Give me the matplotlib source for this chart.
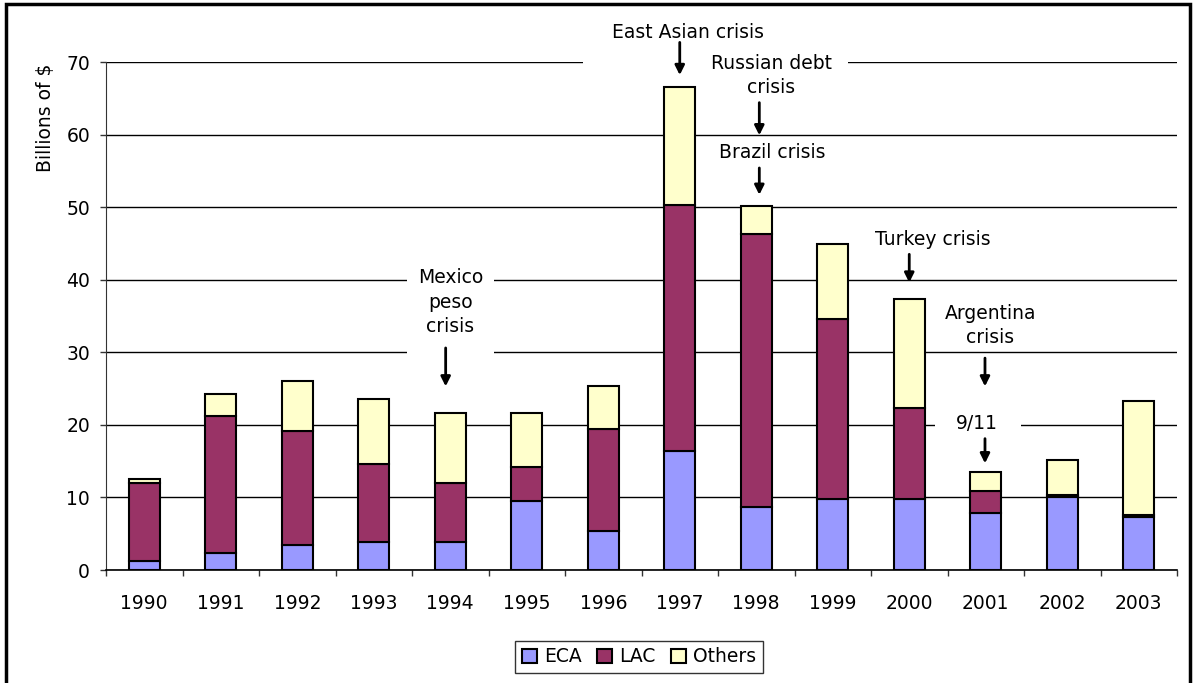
import matplotlib
matplotlib.use("Agg")
import matplotlib.pyplot as plt
import numpy as np
from matplotlib.patches import Rectangle

# ----------------------------------------------------------------------
# Data (billions of $)
# ----------------------------------------------------------------------
years = ["1990", "1991", "1992", "1993", "1994", "1995", "1996",
         "1997", "1998", "1999", "2000", "2001", "2002", "2003"]
eca = [1.3, 2.4, 3.5, 3.8, 3.8, 9.5, 5.4, 16.4, 8.7, 9.8, 9.8, 7.9, 10.1, 7.3]
lac = [10.7, 18.8, 15.7, 10.8, 8.2, 4.7, 14.0, 33.9, 37.6, 24.8, 12.5, 3.0, 0.3, 0.3]
others = [0.6, 3.0, 6.9, 9.0, 9.7, 7.5, 5.9, 16.3, 3.9, 10.3, 15.1, 2.6, 4.7, 15.7]

# crisis labels: (text, text x, text y, arrow x, arrow start y, arrow tip y)
crises = [
    ("East Asian crisis", 7.11, 74.1, 7.0, 72.7, 68.2),
    ("Russian debt\ncrisis", 8.2, 68.1, 8.04, 64.4, 59.9),
    ("Brazil crisis", 8.21, 57.5, 8.04, 55.4, 51.7),
    ("Mexico\npeso\ncrisis", 4.0, 36.9, 3.94, 30.6, 25.3),
    ("Turkey crisis", 10.31, 45.6, 10.0, 43.5, 39.6),
    ("Argentina\ncrisis", 11.06, 33.7, 10.99, 29.2, 25.3),
    ("9/11", 10.89, 20.2, 10.99, 18.1, 14.7),
]

# white text boxes that hide the gridlines: (x0, x1, y0, y1) in data units
text_boxes = [
    (5.735, 9.2, 68.8, 71.5),
    (3.435, 4.572, 29.35, 42.4),
    (10.337, 11.46, 19.0, 21.5),
]

plt.rcParams['font.family'] = ['DejaVu Sans']

fig = plt.figure(figsize=(11.95, 6.83), dpi=100)
ax = fig.add_axes([106/1195, 1 - 570/683, 1071/1195, 508/683])

x = np.arange(len(years))
w = 0.4
eca_a = np.array(eca)
lac_a = np.array(lac)
oth_a = np.array(others)
ax.bar(x, eca_a, w, color='#9999FF', edgecolor='black', lw=1.5, label='ECA', zorder=3)
ax.bar(x, lac_a, w, bottom=eca_a, color='#993366', edgecolor='black', lw=1.5, label='LAC', zorder=3)
ax.bar(x, oth_a, w, bottom=eca_a + lac_a, color='#FFFFCC', edgecolor='black', lw=1.5,
       label='Others', zorder=3)

ax.set_xlim(-0.5, len(years) - 0.5)
ax.set_ylim(0, 70)
ax.set_yticks(range(0, 71, 10))
ax.yaxis.grid(True, color='black', lw=1)
ax.set_axisbelow(True)
ax.tick_params(axis='y', labelsize=13.5, length=4.5, width=1, pad=7, color='#333333')

ax.set_xticks(x)
ax.set_xticklabels(years)
ax.set_xticks(np.arange(-0.5, len(years)), minor=True)
ax.tick_params(axis='x', which='major', length=0, labelsize=13.5, pad=17)
ax.tick_params(axis='x', which='minor', length=4.5, width=1, color='#333333')

for s in ['top', 'right']:
    ax.spines[s].set_visible(False)
ax.spines['left'].set_color('#333333')
ax.spines['bottom'].set_color('black')
ax.spines['bottom'].set_linewidth(1.2)

fig.text(45/1195, 1 - 172/683, "Billions of $", rotation=90, ha='center', va='bottom',
         fontsize=13.5)

for x0, x1, y0, y1 in text_boxes:
    ax.add_patch(Rectangle((x0, y0), x1 - x0, y1 - y0, fc='white', ec='none',
                           zorder=2, clip_on=False))

for txt, tx, ty, axx, y0, y1 in crises:
    ax.text(tx, ty, txt, ha='center', va='center', fontsize=13.5, linespacing=1.35,
            zorder=4, clip_on=False)
    ax.annotate("", xy=(axx, y1), xytext=(axx, y0),
                arrowprops=dict(arrowstyle='-|>', color='black', lw=2,
                                mutation_scale=14, shrinkA=0, shrinkB=0),
                zorder=5, annotation_clip=False)

leg = fig.legend(loc='center', bbox_to_anchor=(639/1195, 1 - 657/683), ncol=3,
                 fontsize=13.5, handlelength=0.8, handleheight=0.8, handletextpad=0.4,
                 columnspacing=0.8, fancybox=False, borderpad=0.35)
leg.get_frame().set_edgecolor('black')
leg.get_frame().set_linewidth(1)

# outer frame of the figure
fig.patches.append(Rectangle((6/1195, -0.05), 1184/1195, 1.05 - 4/683,
                             transform=fig.transFigure, fill=False,
                             ec='black', lw=2.5, clip_on=False))

fig.savefig("out.png", dpi=100)
